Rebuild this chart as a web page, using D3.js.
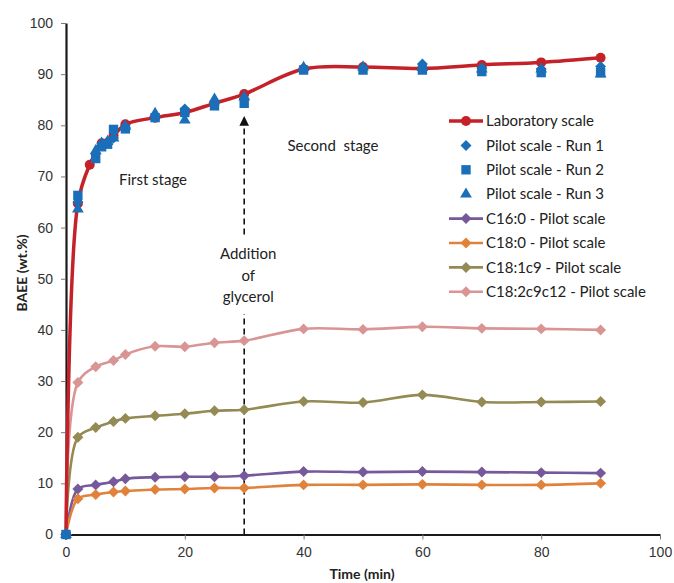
<!DOCTYPE html>
<html>
<head>
<meta charset="utf-8">
<script src="https://cdn.jsdelivr.net/npm/d3@7/dist/d3.min.js"></script>
<style>
  html, body { margin: 0; padding: 0; background: #fff; }
  svg { display: block; font-family: Lato, "Open Sans", sans-serif; }
  .tick text { font-size: 14px; fill: #333; }
</style>
</head>
<body>
<div id="chart-container"></div>
<script>
// reaction time (min)
const labTime = [0, 2, 4, 6, 8, 10, 15, 20, 25, 30, 40, 50, 60, 70, 80, 90];
const pilotTime = [0, 2, 5, 6, 7, 8, 10, 15, 20, 25, 30, 40, 50, 60, 70, 80, 90];
const faTime = [0, 2, 5, 8, 10, 15, 20, 25, 30, 40, 50, 60, 70, 80, 90];

// BAEE (wt.%)
const labScale = [0, 64.7, 72.3, 76.5, 78.0, 80.2, 81.5, 82.5, 84.3, 86.1, 91.0, 91.4, 91.1, 91.8, 92.3, 93.2];
const pilotRun1 = [0, 65.0, 74.5, 76.0, 76.5, 77.5, 79.5, 81.7, 83.2, 84.5, 85.2, 91.0, 91.0, 92.0, 91.2, 91.0, 91.5];
const pilotRun2 = [0, 66.3, 73.5, 75.8, 76.3, 79.2, 79.3, 81.5, 82.5, 83.8, 84.3, 90.8, 90.8, 90.8, 90.5, 90.3, 90.3];
const pilotRun3 = [0, 63.6, 75.0, 76.5, 76.8, 77.5, 79.8, 82.3, 81.0, 85.1, 85.5, 91.3, 91.4, 91.3, 91.0, 91.0, 90.0];

// fatty acid ethyl esters, pilot scale
const c160 = [0, 8.9, 9.7, 10.3, 10.9, 11.2, 11.3, 11.3, 11.5, 12.3, 12.2, 12.3, 12.2, 12.1, 12.0];
const c180 = [0, 7.0, 7.8, 8.3, 8.5, 8.8, 8.9, 9.1, 9.1, 9.7, 9.7, 9.8, 9.7, 9.7, 10.0];
const c181 = [0, 19.0, 20.9, 22.1, 22.7, 23.2, 23.6, 24.2, 24.4, 26.0, 25.8, 27.3, 25.9, 25.9, 26.0];
const c182 = [0, 29.7, 32.8, 34.0, 35.2, 36.8, 36.7, 37.5, 37.9, 40.2, 40.1, 40.6, 40.3, 40.2, 40.0];

const xTicks = [0, 20, 40, 60, 80, 100];
const yTicks = [0, 10, 20, 30, 40, 50, 60, 70, 80, 90, 100];

function drawChart() {
    const W = 674, H = 583;
    const left = 66, right = 660, top = 23, bottom = 534.5;

    const svg = d3.select("#chart-container")
        .append("svg")
        .attr("width", W)
        .attr("height", H);

    const x = d3.scaleLinear().domain([0, 100]).range([left, right]);
    const y = d3.scaleLinear().domain([0, 100]).range([bottom, top]);

    // axes
    const xAxis = svg.append("g")
        .attr("transform", `translate(0,${bottom})`)
        .call(d3.axisBottom(x).tickValues(xTicks).tickSize(5).tickSizeOuter(0).tickPadding(8));
    const yAxis = svg.append("g")
        .attr("transform", `translate(${left},0)`)
        .call(d3.axisLeft(y).tickValues(yTicks).tickSize(5).tickSizeOuter(0).tickPadding(8));
    [xAxis, yAxis].forEach(a => {
        a.select(".domain").attr("stroke", "#1a1a1a").attr("stroke-width", 2.2);
        a.selectAll(".tick line").attr("stroke", "#777").attr("stroke-width", 1);
    });

    // axis titles
    svg.append("text")
        .attr("x", 362).attr("y", 579)
        .attr("text-anchor", "middle")
        .attr("font-weight", "bold").attr("font-size", 14)
        .attr("fill", "#222")
        .text("Time (min)");
    svg.append("text")
        .attr("transform", `translate(27,${273}) rotate(-90)`)
        .attr("text-anchor", "middle")
        .attr("font-weight", "bold").attr("font-size", 14)
        .attr("fill", "#222")
        .text("BAEE (wt.%)");

    // glycerol addition arrow (behind the data)
    svg.append("defs").append("marker")
        .attr("id", "arrow")
        .attr("viewBox", "0 0 10 10")
        .attr("refX", 9).attr("refY", 5)
        .attr("markerWidth", 6).attr("markerHeight", 6)
        .attr("orient", "auto")
        .append("path")
        .attr("d", "M0,0 L10,5 L0,10 Z")
        .attr("fill", "#111");
    svg.append("line")
        .attr("x1", x(30)).attr("x2", x(30))
        .attr("y1", bottom).attr("y2", 117)
        .attr("stroke", "#111").attr("stroke-width", 1.6)
        .attr("stroke-dasharray", "6,4")
        .attr("marker-end", "url(#arrow)");
    svg.append("rect")
        .attr("x", x(30) - 34).attr("y", 238)
        .attr("width", 68).attr("height", 76)
        .attr("fill", "#fff");
    const glyc = svg.append("text")
        .attr("text-anchor", "middle")
        .attr("font-size", 15).attr("fill", "#222");
    ["Addition", "of", "glycerol"].forEach((t, i) => {
        glyc.append("tspan").attr("x", x(30) + 4).attr("y", 259 + i * 21.5).text(t);
    });

    svg.append("text")
        .attr("x", 153).attr("y", 185)
        .attr("text-anchor", "middle")
        .attr("font-size", 15).attr("fill", "#222")
        .text("First stage");
    svg.append("text")
        .attr("x", 333).attr("y", 151)
        .attr("text-anchor", "middle")
        .attr("font-size", 15).attr("fill", "#222")
        .attr("xml:space", "preserve")
        .text("Second  stage");

    const diamond = d3.symbol().type(d3.symbolSquare).size(60);
    const square = d3.symbol().type(d3.symbolSquare).size(88);
    const triangle = d3.symbol().type(d3.symbolTriangle).size(60);

    // fatty acid series
    const faSeries = [
        { name: "C16:0 - Pilot scale", color: "#76599A", values: c160 },
        { name: "C18:0 - Pilot scale", color: "#E0823A", values: c180 },
        { name: "C18:1c9 - Pilot scale", color: "#948A54", values: c181 },
        { name: "C18:2c9c12 - Pilot scale", color: "#D99594", values: c182 },
    ];
    const faLine = d3.line()
        .x((d, i) => x(faTime[i]))
        .y(d => y(d))
        .curve(d3.curveCatmullRom.alpha(0.5));

    faSeries.forEach(s => {
        const g = svg.append("g");
        g.append("path")
            .attr("d", faLine(s.values))
            .attr("fill", "none")
            .attr("stroke", s.color)
            .attr("stroke-width", 2.6);
        g.selectAll("path.pt")
            .data(s.values)
            .enter()
            .append("path")
            .attr("class", "pt")
            .attr("d", diamond)
            .attr("transform", (d, i) => `translate(${x(faTime[i])},${y(d)}) rotate(45)`)
            .attr("fill", s.color);
    });

    // laboratory scale
    const red = "#C42128";
    const labLine = d3.line()
        .x((d, i) => x(labTime[i]))
        .y(d => y(d))
        .curve(d3.curveCatmullRom.alpha(0.5));
    svg.append("path")
        .attr("d", labLine(labScale))
        .attr("fill", "none")
        .attr("stroke", red)
        .attr("stroke-width", 3.5);
    svg.append("g")
        .selectAll("circle")
        .data(labScale)
        .enter()
        .append("circle")
        .attr("cx", (d, i) => x(labTime[i]))
        .attr("cy", d => y(d))
        .attr("r", 5)
        .attr("fill", red);

    // pilot runs
    const blue = "#1A6FB8";
    const runs = [
        { values: pilotRun1, sym: diamond, rot: 45 },
        { values: pilotRun2, sym: square, rot: 0 },
        { values: pilotRun3, sym: triangle, rot: 0 },
    ];
    runs.forEach(r => {
        svg.append("g")
            .selectAll("path")
            .data(r.values)
            .enter()
            .append("path")
            .attr("d", r.sym)
            .attr("transform", (d, i) => `translate(${x(pilotTime[i])},${y(d)}) rotate(${r.rot})`)
            .attr("fill", blue);
    });

    // legend
    const legend = [
        { name: "Laboratory scale", color: red, line: true, sym: "circle" },
        { name: "Pilot scale - Run 1", color: blue, line: false, sym: diamond, rot: 45 },
        { name: "Pilot scale - Run 2", color: blue, line: false, sym: square, rot: 0 },
        { name: "Pilot scale - Run 3", color: blue, line: false, sym: triangle, rot: 0 },
    ].concat(faSeries.map(s => ({ name: s.name, color: s.color, line: true, sym: diamond, rot: 45 })));

    const lg = svg.append("g");
    legend.forEach((l, i) => {
        const ly = 121 + i * 24.4;
        if (l.line) {
            lg.append("line")
                .attr("x1", 449).attr("x2", 483)
                .attr("y1", ly).attr("y2", ly)
                .attr("stroke", l.color)
                .attr("stroke-width", l.sym === "circle" ? 3.5 : 2.6);
        }
        if (l.sym === "circle") {
            lg.append("circle").attr("cx", 466).attr("cy", ly).attr("r", 5).attr("fill", l.color);
        } else {
            lg.append("path")
                .attr("d", l.sym)
                .attr("transform", `translate(466,${ly}) rotate(${l.rot})`)
                .attr("fill", l.color);
        }
        lg.append("text")
            .attr("x", 486).attr("y", ly)
            .attr("dy", "0.35em")
            .attr("font-size", 15)
            .attr("fill", "#222")
            .text(l.name);
    });
}

window.onload = () => {
    drawChart();
};
</script>
</body>
</html>
